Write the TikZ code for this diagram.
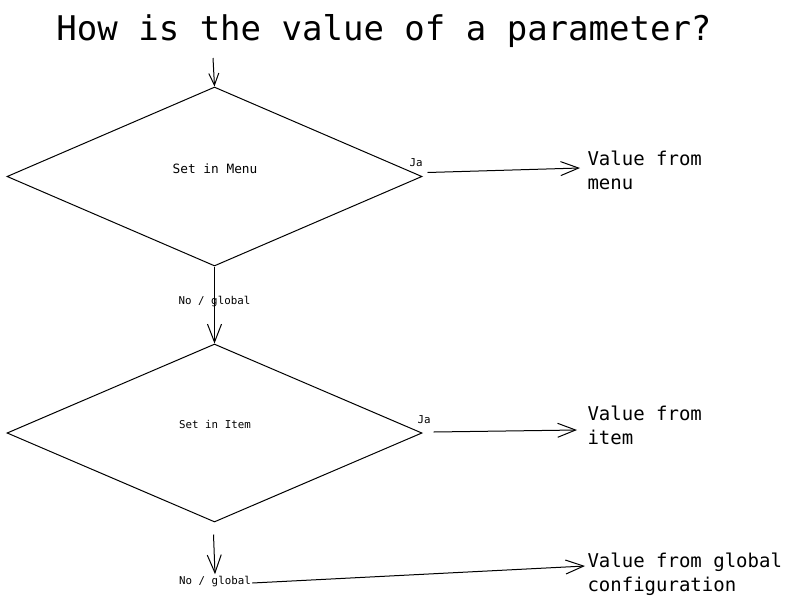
\documentclass[tikz,border=0pt]{standalone}
\usepackage{fontspec}
\setmainfont{DejaVu Sans Mono}
\usetikzlibrary{shapes.geometric,arrows.meta}
\begin{document}
\begin{tikzpicture}[x=1pt,y=-1pt,
  line width=1pt,
  dec/.style={diamond,draw,inner sep=0pt,minimum width=415pt,minimum height=179pt},
  arr/.style={-{Straight Barb[length=18pt,width=14pt,line width=1pt]}},
  arrsm/.style={-{Straight Barb[length=12pt,width=10pt,line width=1pt]}},
  outtxt/.style={anchor=west,align=left,inner sep=0pt,font=\fontsize{19}{24}\selectfont},
  small/.style={inner sep=1pt,font=\fontsize{10.8}{12}\selectfont}]
\useasboundingbox (0,0) rectangle (800,603);
\node[anchor=base,inner sep=0pt,font=\fontsize{34}{40}\selectfont] (title) at (384,40) {How is the value of a parameter?};
\node[dec] (m1) at (214.5,176.5) {};
\node[dec,minimum height=178pt] (m2) at (214.5,433) {};
\node[inner sep=0pt,font=\fontsize{12.8}{14}\selectfont] (t1) at (215,169) {Set in Menu};
\node[inner sep=0pt,font=\fontsize{10.8}{12}\selectfont] (t2) at (215,424) {Set in Item};
\node[outtxt] (vm) at (587,170) {Value from\\menu};
\node[outtxt] (vi) at (587,425) {Value from\\item};
\node[outtxt] (vg) at (587,574) {Value from global\\configuration};
\node[small] (ja1) at (416,163) {Ja};
\node[small] (ja2) at (424,420) {Ja};
\node[small] (nog) at (215,582) {No / global};
\coordinate (start) at (213,58);
\draw[arrsm] (start) -- (m1.north);
\draw[arr] (m1.south) -- node[small,pos=0.45] (nog1) {No / global} (m2.north);
\draw[arr] ([shift={(5,-4)}]m1.east) -- ([shift={(-7,-2)}]vm.west);
\draw[arr] ([shift={(11,-1)}]m2.east) -- ([shift={(-10,5)}]vi.west);
\draw[arr] ([shift={(-1,12)}]m2.south) -- ([yshift=1pt]nog.north);
\draw[arr] ([yshift=-1pt]nog.east) -- ([shift={(-2,-8)}]vg.west);
\end{tikzpicture}
\end{document}
